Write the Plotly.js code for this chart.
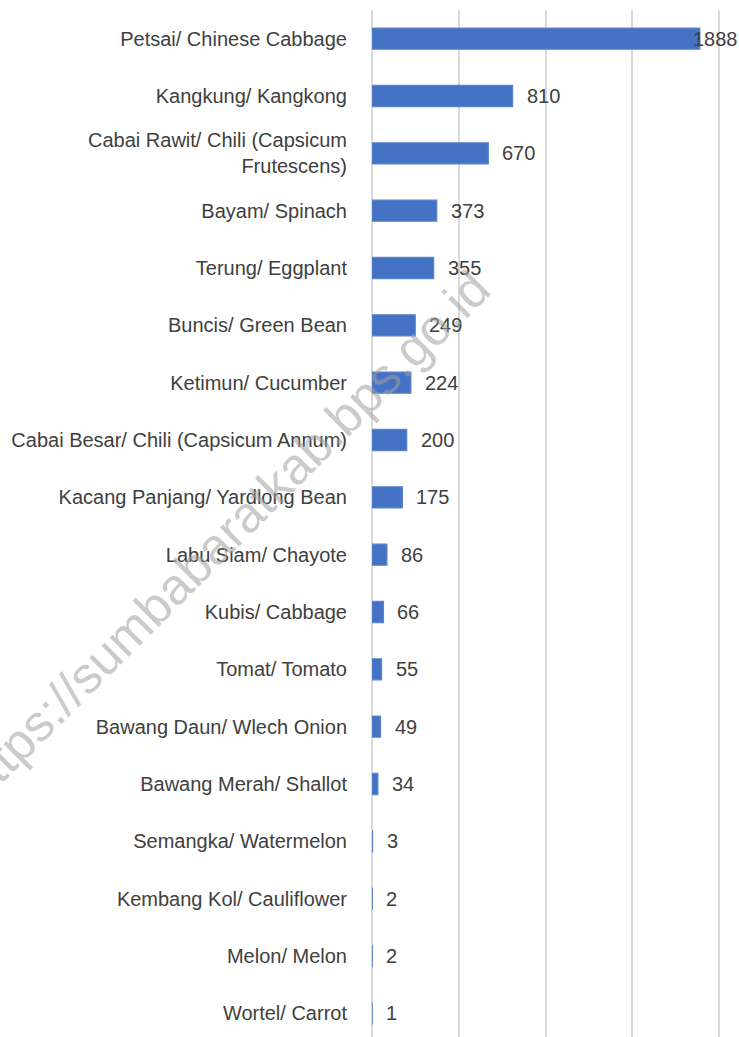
<!DOCTYPE html>
<html>
<head>
<meta charset="utf-8">
<script src="https://cdn.plot.ly/plotly-3.0.1.min.js"></script>
<style>html,body{margin:0;padding:0;background:#fff;overflow:hidden;}</style>
</head>
<body>
<div id="chart" style="width:739px;height:1042px;"></div>
<script>
const categories = [
  "Petsai/ Chinese Cabbage",
  "Kangkung/ Kangkong",
  "Cabai Rawit/ Chili (Capsicum<br>Frutescens)",
  "Bayam/ Spinach",
  "Terung/ Eggplant",
  "Buncis/ Green Bean",
  "Ketimun/ Cucumber",
  "Cabai Besar/ Chili (Capsicum Annum)",
  "Kacang Panjang/ Yardlong Bean",
  "Labu Siam/ Chayote",
  "Kubis/ Cabbage",
  "Tomat/ Tomato",
  "Bawang Daun/ Wlech Onion",
  "Bawang Merah/ Shallot",
  "Semangka/ Watermelon",
  "Kembang Kol/ Cauliflower",
  "Melon/ Melon",
  "Wortel/ Carrot"
];
const values = [1888, 810, 670, 373, 355, 249, 224, 200, 175, 86, 66, 55, 49, 34, 3, 2, 2, 1];
const watermark = "https://sumbabaratkab.bps.go.id";

const labelFont = {family: "Liberation Sans, Arial, sans-serif", size: 20, color: "#404040"};

const annotations = values.map((v, i) => ({
  x: v, y: categories[i], xref: "x", yref: "y",
  text: String(v), showarrow: false, xanchor: "left",
  xshift: v > 1800 ? -9 : 12, font: labelFont
}));
annotations.push({
  text: watermark, xref: "paper", yref: "paper",
  x: -0.424, y: 0.49, xanchor: "center", yanchor: "middle",
  showarrow: false, textangle: -45,
  font: {family: "Liberation Sans, Arial, sans-serif", size: 51, color: "rgba(160,160,160,0.55)"}
});

const trace = {
  type: "bar", orientation: "h",
  x: values, y: categories,
  marker: {color: "#4472C4", line: {color: "#5b84cc", width: 1.2}},
  hoverinfo: "none"
};

const layout = {
  width: 739, height: 1042,
  margin: {l: 372, r: 18, t: 10, b: 0},
  paper_bgcolor: "#fff", plot_bgcolor: "#fff",
  showlegend: false,
  bargap: 0.63,
  xaxis: {
    range: [0, 2010], dtick: 500, showticklabels: false,
    showgrid: true, gridcolor: "#d9d9d9", gridwidth: 2,
    zeroline: true, zerolinecolor: "#d9d9d9", zerolinewidth: 2,
    fixedrange: true
  },
  yaxis: {
    autorange: "reversed", tickfont: labelFont,
    ticklabelstandoff: 24, showgrid: false, zeroline: false,
    ticks: "", fixedrange: true
  },
  annotations: annotations
};

Plotly.newPlot("chart", [trace], layout, {displayModeBar: false, staticPlot: true});
</script>
</body>
</html>
